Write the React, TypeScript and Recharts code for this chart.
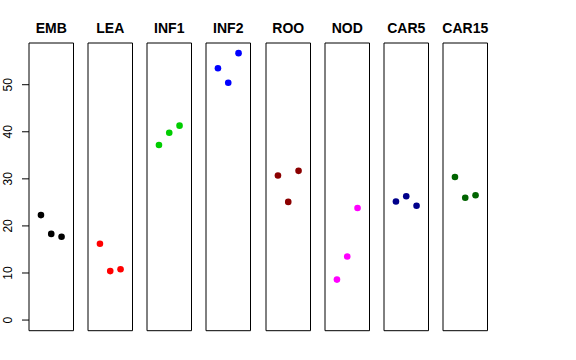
import React from 'react';
import { ScatterChart, Scatter, XAxis, YAxis, ReferenceArea } from 'recharts';

const panelNames = ['EMB', 'LEA', 'INF1', 'INF2', 'ROO', 'NOD', 'CAR5', 'CAR15'];
const panelColors = ['#000000', '#FF0000', '#00CD00', '#0000FF', '#8B0000', '#FF00FF', '#00008B', '#006400'];
const xPositions = [1, 2, 3];
const EMB = [22.3, 18.3, 17.7];
const LEA = [16.2, 10.4, 10.8];
const INF1 = [37.2, 39.8, 41.3];
const INF2 = [53.5, 50.4, 56.7];
const ROO = [30.7, 25.1, 31.7];
const NOD = [8.6, 13.5, 23.8];
const CAR5 = [25.2, 26.3, 24.3];
const CAR15 = [30.4, 26.0, 26.5];
const panelValues = [EMB, LEA, INF1, INF2, ROO, NOD, CAR5, CAR15];
const yTicks = [0, 10, 20, 30, 40, 50];
const xDomain: [number, number] = [-0.16, 4.16];
const yDomain: [number, number] = [-2.26, 58.86];

const FONT = '"Liberation Sans", Arial, Helvetica, sans-serif';
const AXIS_W = 29;
const BOX_W = 44.5;
const PITCH = 59.14;
const FIRST_LEFT = 29;

const RotTick = (props: any) => {
  const { x, y, payload } = props;
  const tx = x - 7.5;
  return (
    <text x={tx} y={y} transform={`rotate(-90, ${tx}, ${y})`} textAnchor="middle"
      fontFamily={FONT} fontSize={12} fill="#000">
      {payload.value}
    </text>
  );
};

const Panel = ({ i }: { i: number }) => {
  const data = xPositions.map((x, k) => ({ x, y: panelValues[i][k] }));
  const color = panelColors[i];
  const left = FIRST_LEFT + i * PITCH - AXIS_W;
  return (
    <div style={{ position: 'absolute', left, top: 0 }}>
      <ScatterChart width={AXIS_W + BOX_W + 2} height={360}
        margin={{ top: 43, right: 2, bottom: 29.3, left: i === 0 ? 0 : AXIS_W }}>
        <XAxis type="number" dataKey="x" domain={xDomain} hide allowDataOverflow />
        <YAxis type="number" dataKey="y" domain={yDomain} ticks={yTicks} hide={i !== 0}
          width={AXIS_W} allowDataOverflow axisLine={false} tickSize={7}
          tickLine={{ stroke: '#000' }} tick={<RotTick />} interval={0} />
        <ReferenceArea x1={xDomain[0]} x2={xDomain[1]} y1={yDomain[0]} y2={yDomain[1]}
          fill="none" fillOpacity={0} stroke="#000" strokeWidth={1} strokeOpacity={1}
          label={{ value: panelNames[i], position: 'top', offset: 10, fontFamily: FONT,
            fontSize: 14, fontWeight: 'bold', fill: '#000' }} />
        <Scatter data={data} isAnimationActive={false}
          shape={(p: any) => <circle cx={p.cx} cy={p.cy} r={3.3} fill={color} />} />
      </ScatterChart>
    </div>
  );
};

export default function App() {
  return (
    <div style={{ position: 'absolute', left: 0, top: 0, width: 576, height: 360, background: '#fff' }}>
      {panelNames.map((_, i) => <Panel key={i} i={i} />)}
    </div>
  );
}
